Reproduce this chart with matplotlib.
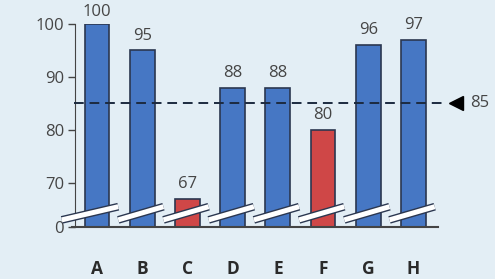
import numpy as np
import matplotlib.pyplot as plt
from matplotlib.scale import FuncScale

cats = ['A', 'B', 'C', 'D', 'E', 'F', 'G', 'H']
vals = [100, 95, 67, 88, 88, 80, 96, 97]
below = [False, False, True, False, False, True, False, False]  # under the target
target = 85
yticks = [0, 70, 80, 90, 100]

bg = '#e3eef5'
blue, red = '#4677c4', '#cf4747'
edge = '#2b3750'
txt = '#454545'
plt.rcParams['font.family'] = ['Open Sans', 'DejaVu Sans']

# broken axis: squeeze 0..65 into a small strip
brk, k = 65.0, 0.0508
def fwd(v):
    v = np.asarray(v, dtype=float)
    return np.where(v >= brk, v, brk - (brk - v) * k)
def inv(u):
    u = np.asarray(u, dtype=float)
    return np.where(u >= brk, u, brk - (brk - u) / k)

fig = plt.figure(figsize=(4.95, 2.79), dpi=100, facecolor=bg)
ax = fig.add_axes([0.1515, 0.1864, 0.818, 0.7276], facecolor=bg)
ax.set_yscale(FuncScale(ax, (fwd, inv)))

x = np.arange(len(cats))
cols = [red if b else blue for b in below]
ax.bar(x, vals, width=0.55, color=cols, edgecolor=edge, lw=1.2, zorder=2)
for xi, v in zip(x, vals):
    ax.annotate(str(v), (xi, v), xytext=(0, 3 if v >= 100 else 5),
                textcoords='offset points',
                ha='center', va='bottom', fontsize=12, color=txt)

# break marks over each bar
tr = ax.get_xaxis_transform()
for xi in x:
    x0 = xi - (0.78 if xi == 0 else 0.53)
    ax.plot([x0, xi + 0.47], [0.035, 0.10], transform=tr, color=edge, lw=5.6,
            solid_capstyle='butt', zorder=3, clip_on=False)
    ax.plot([x0, xi + 0.47], [0.035, 0.10], transform=tr, color='white', lw=3.6,
            solid_capstyle='butt', zorder=4, clip_on=False)

# target line
ax.plot([-0.5, 7.72], [target, target], color='#1c2a40', lw=1.4,
        ls=(0, (5, 3)), zorder=5, clip_on=False)
ax.plot(7.95, target, marker='<', ms=10, color='black', clip_on=False)
ax.text(8.25, target, str(target), va='center', ha='left', fontsize=12, color=txt)

ax.set_xlim(-0.487, 8.47)
ax.set_ylim(0, 100)
ax.set_yticks(yticks)
ax.set_xticks(x)
ax.set_xticklabels(cats, fontweight='bold', fontsize=12.5, color='#2a2a2a')
ax.tick_params(axis='x', length=0, pad=24)
ax.tick_params(axis='y', length=5, width=1, color='#444444', labelsize=12,
               labelcolor=txt, pad=3)
for s in ['top', 'right']:
    ax.spines[s].set_visible(False)
ax.spines['left'].set_color('#444444')
ax.spines['bottom'].set_color('#444444')
ax.spines['bottom'].set_linewidth(1.5)
ax.spines['bottom'].set_bounds(-0.55, 7.55)

fig.savefig('out.png', dpi=100, facecolor=bg)
